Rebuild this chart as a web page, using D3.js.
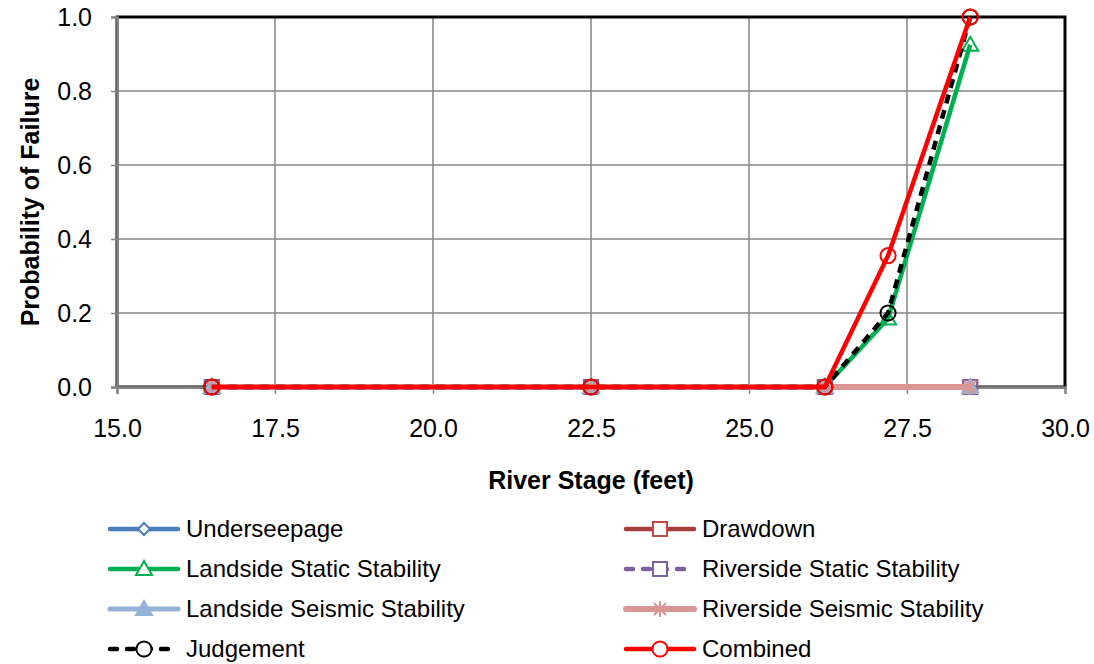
<!DOCTYPE html>
<html>
<head>
<meta charset="utf-8">
<script src="https://cdn.jsdelivr.net/npm/d3@7"></script>
<style>
  body { margin: 0; background: #fff; }
  svg { font-family: "Liberation Sans", Arial, sans-serif; }
</style>
</head>
<body>
<svg width="1094" height="664"></svg>
<script>
// data
var stages = [16.5, 22.5, 26.2, 27.2, 28.5];
var underseepage = [0, 0, 0, null, 0];
var drawdown = [0, 0, 0, null, 0];
var landsideStatic = [0, 0, 0, 0.185, 0.925];
var riversideStatic = [0, 0, 0, null, 0];
var landsideSeismic = [0, 0, 0, null, 0];
var riversideSeismic = [0, 0, 0, null, 0];
var judgement = [0, 0, 0, 0.2, 1.0];
var combined = [0, 0, 0, 0.355, 1.0];
var xTicks = [15, 17.5, 20, 22.5, 25, 27.5, 30];
var yTicks = [0, 0.2, 0.4, 0.6, 0.8, 1.0];

var series = [
  {name: "Underseepage", values: underseepage, color: "#4a7ebb", mcolor: "#4a7ebb", dash: null, marker: "diamond", fill: false, w: 4.5},
  {name: "Drawdown", values: drawdown, color: "#a5403d", mcolor: "#be4b48", dash: null, marker: "square", fill: false, w: 4.5},
  {name: "Landside Static Stability", values: landsideStatic, color: "#00b050", mcolor: "#00b050", dash: null, marker: "triangle", fill: false, w: 4.5},
  {name: "Riverside Static Stability", values: riversideStatic, color: "#7d60a0", mcolor: "#7d60a0", dash: "9,7", marker: "square", fill: false, w: 4.5},
  {name: "Landside Seismic Stability", values: landsideSeismic, color: "#95b3d7", mcolor: "#95b3d7", dash: null, marker: "triangle", fill: true, w: 5},
  {name: "Riverside Seismic Stability", values: riversideSeismic, color: "#d99694", mcolor: "#d99694", dash: null, marker: "star", fill: false, w: 6},
  {name: "Judgement", values: judgement, color: "#000000", mcolor: "#000000", dash: "9,7", marker: "circle", fill: false, w: 4.5},
  {name: "Combined", values: combined, color: "#ff0000", mcolor: "#ff0000", dash: null, marker: "circle", fill: false, w: 4.5}
];

var svg = d3.select("svg");
var plotLeft = 117, plotRight = 1065, plotTop = 17, plotBottom = 387;

var x = d3.scaleLinear().domain([15, 30]).range([plotLeft, plotRight]);
var y = d3.scaleLinear().domain([0, 1]).range([plotBottom, plotTop]);

// gridlines
svg.append("g").selectAll("line").data(yTicks.slice(1)).enter().append("line")
  .attr("x1", plotLeft).attr("x2", plotRight)
  .attr("y1", d => y(d)).attr("y2", d => y(d))
  .attr("stroke", "#868686").attr("stroke-width", 1.5);
svg.append("g").selectAll("line").data(xTicks.slice(1)).enter().append("line")
  .attr("y1", plotTop).attr("y2", plotBottom)
  .attr("x1", d => x(d)).attr("x2", d => x(d))
  .attr("stroke", "#868686").attr("stroke-width", 1.5);

// plot border
svg.append("rect")
  .attr("x", plotLeft).attr("y", plotTop)
  .attr("width", plotRight - plotLeft).attr("height", plotBottom - plotTop)
  .attr("fill", "none").attr("stroke", "#000").attr("stroke-width", 3);

// axes
var xAxis = svg.append("g")
  .attr("transform", "translate(0," + plotBottom + ")")
  .call(d3.axisBottom(x).tickValues(xTicks).tickFormat(d3.format(".1f")).tickSize(7).tickPadding(25));
var yAxis = svg.append("g")
  .attr("transform", "translate(" + plotLeft + ",0)")
  .call(d3.axisLeft(y).tickValues(yTicks).tickFormat(d3.format(".1f")).tickSize(6).tickPadding(19));
[xAxis, yAxis].forEach(function (a) {
  a.select(".domain").attr("stroke", "#868686").attr("stroke-width", 2.5);
  a.selectAll(".tick line").attr("stroke", "#868686").attr("stroke-width", 1.5);
  a.selectAll(".tick text").attr("font-size", 25).attr("fill", "#000")
    .attr("font-family", "Liberation Sans, Arial, sans-serif");
});

// axis titles
svg.append("text")
  .attr("x", x(22.5)).attr("y", 489)
  .attr("text-anchor", "middle")
  .attr("font-size", 25).attr("font-weight", "bold")
  .text("River Stage (feet)");
svg.append("text")
  .attr("transform", "translate(39," + y(0.5) + ") rotate(-90)")
  .attr("text-anchor", "middle")
  .attr("font-size", 25).attr("font-weight", "bold")
  .text("Probability of Failure");

function markerPath(type) {
  if (type == "diamond") return "M0,-6L6,0L0,6L-6,0Z";
  if (type == "square") return "M-7,-7H7V7H-7Z";
  if (type == "triangle") return "M0,-8L8,6H-8Z";
  if (type == "circle") return d3.symbol().type(d3.symbolCircle).size(180)();
  if (type == "star") return "M-6,-6L6,6M-6,6L6,-6M0,-8V8";
  return "";
}

function drawMarker(g, s) {
  g.append("path")
    .attr("d", markerPath(s.marker))
    .attr("fill", s.fill ? s.mcolor : "none")
    .attr("stroke", s.mcolor)
    .attr("stroke-width", 2);
}

var line = d3.line()
  .x(d => x(d.x)).y(d => y(d.v));

series.forEach(function (s) {
  var pts = stages.map((st, i) => ({x: st, v: s.values[i]})).filter(d => d.v != null);
  var g = svg.append("g");
  g.append("path")
    .datum(pts)
    .attr("d", line)
    .attr("fill", "none")
    .attr("stroke", s.color)
    .attr("stroke-width", s.w)
    .attr("stroke-dasharray", s.dash);
  pts.forEach(function (p) {
    var m = g.append("g").attr("transform", "translate(" + x(p.x) + "," + y(p.v) + ")");
    drawMarker(m, s);
  });
});

// legend
var legend = svg.append("g");
series.forEach(function (s, i) {
  var col = i % 2, row = Math.floor(i / 2);
  var lx = col == 0 ? 110 : 626;
  var ly = 529 + row * 40;
  var row_g = legend.append("g").attr("transform", "translate(" + lx + "," + ly + ")");
  row_g.append("line")
    .attr("x1", 0).attr("x2", 68).attr("y1", 0).attr("y2", 0)
    .attr("stroke", s.color).attr("stroke-width", s.w)
    .attr("stroke-linecap", "round")
    .attr("stroke-dasharray", s.dash ? "7,10" : null);
  var m = row_g.append("g").attr("transform", "translate(34,0)");
  drawMarker(m, s);
  m.selectAll("path").attr("fill", s.fill ? s.mcolor : (s.marker == "star" ? "none" : "#fff"));
  row_g.append("text")
    .attr("x", 76).attr("y", 8)
    .attr("font-size", 24)
    .text(s.name);
});
</script>
</body>
</html>
